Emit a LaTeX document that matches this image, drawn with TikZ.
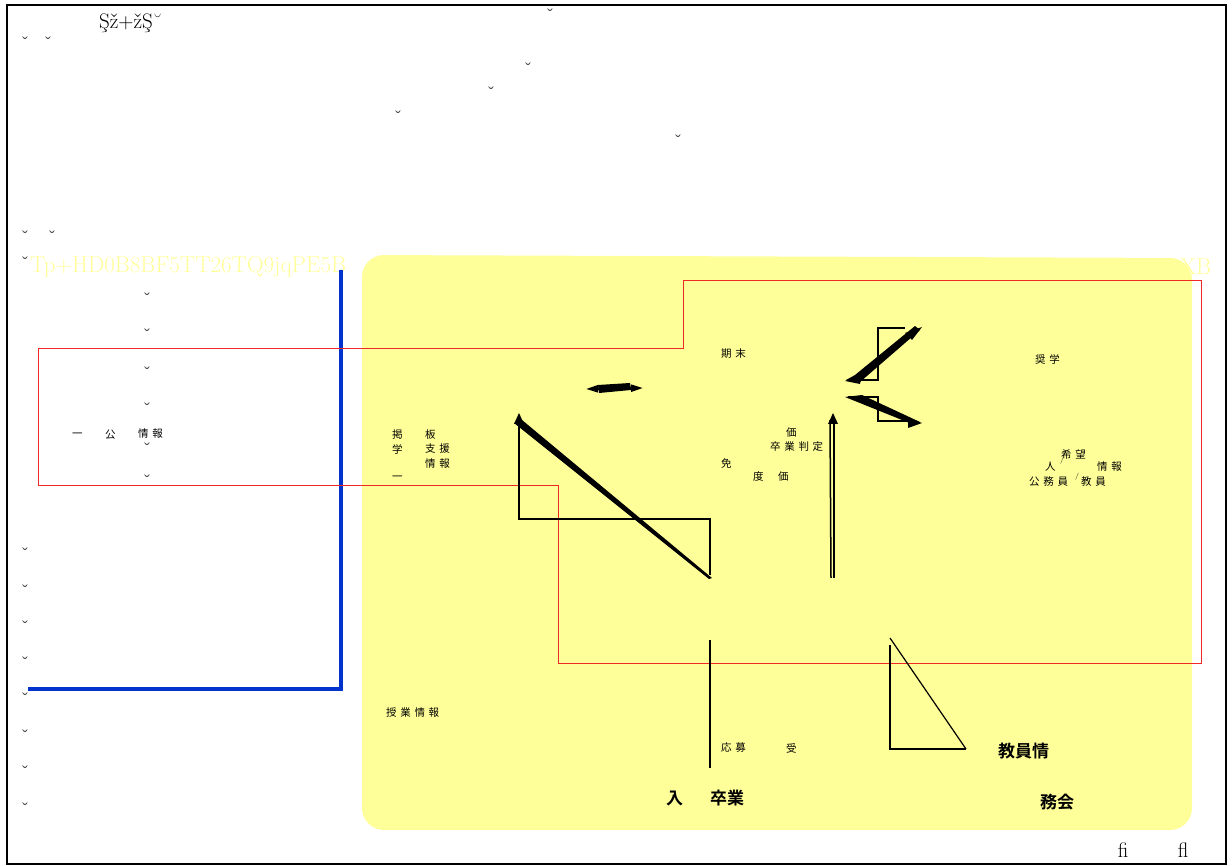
\documentclass[tikz,border=0pt]{standalone}
\usepackage{fontspec}
\newfontfamily\jp[LetterSpace=35]{Noto Sans CJK JP}
\newfontfamily\jpb[LetterSpace=0]{Noto Sans CJK JP Bold}
\usetikzlibrary{arrows.meta}
\definecolor{pale}{RGB}{255,255,153}
\definecolor{blueline}{RGB}{0,51,204}
\definecolor{redline}{RGB}{240,40,40}
\tikzset{
  jt/.style={font=\jp\fontsize{10.5}{12}\selectfont, inner sep=0pt, anchor=west},
  jbt/.style={font=\jpb\fontsize{17}{18}\selectfont, inner sep=0pt, anchor=west},
  br/.style={font=\bfseries\fontsize{14}{14}\selectfont, inner sep=0pt},
  gar/.style={font=\fontsize{23}{23}\selectfont, text=pale, inner sep=0pt, anchor=west},
  blk/.style={line width=2.2pt, black},
  thinblk/.style={line width=1.2pt, black}
}
\begin{document}
\begin{tikzpicture}[x=1pt,y=-1pt]
\useasboundingbox (0,0) rectangle (1232,866);
% outer frame
\draw[line width=2pt] (7,5) rectangle (1226,864);
% yellow region
\fill[pale, rounded corners=22pt] (362,255) -- (1192,258) -- (1192,830) -- (362,830) -- cycle;
% garbled yellow text
\node[gar] (g1) at (30,267) {Tp+HD0B8BF5TT26TQ9jqPE5B};
\node[gar] (g4) at (1180,267) {XB};
% blue line
\draw[blueline, line width=4pt] (341,270) -- (341,689) -- (28,689);
% red outline
\draw[redline, line width=0.8pt] (38,348) -- (683,348) -- (683,280) -- (1201,280) -- (1201,663) -- (558,663) -- (558,485) -- (38,485) -- cycle;
% top serif text
\node[font=\fontsize{21}{21}\selectfont, inner sep=0pt, anchor=west] (t1) at (99,23) {Şž+žŞ˘};
\node[font=\fontsize{21}{21}\selectfont, inner sep=0pt] (f1) at (1123,850) {ﬁ};
\node[font=\fontsize{21}{21}\selectfont, inner sep=0pt] (f2) at (1183,850) {ﬂ};
% breves
\foreach \x/\y [count=\i] in {550/14,25/42,48/42,528/68,491/92,398/116,678/140,25/236,52/236,25/262,147/298,147/334,147/372,147/408,147/448,147/480,25/553,25/590,25/626,25/662,25/698,25/735,25/771,25/808}
  \node[br] (b\i) at (\x,\y) {˘};
% Japanese labels
\node[jt] (k1) at (721,354) {期末};
\node[jt] (k2) at (1035,359) {奨学};
\node[jt] (k3) at (72,435) {一};
\node[jt] (k4) at (105,435) {公};
\node[jt] (k5) at (138,434) {情報};
\node[jt] (k6) at (392,435) {掲};
\node[jt] (k7) at (425,435) {板};
\node[jt] (k8) at (392,449) {学};
\node[jt] (k9) at (425,449) {支援};
\node[jt] (k10) at (425,464) {情報};
\node[jt] (k11) at (392,478) {一};
\node[jt] (k12) at (786,433) {価};
\node[jt] (k13) at (770,447) {卒業判定};
\node[jt] (k14) at (721,463) {免};
\node[jt] (k15) at (753,477) {度};
\node[jt] (k16) at (778,477) {価};
\node[jt] (k17) at (1061,454) {希望};
\node[jt] (k18) at (1045,467) {人};
\node[jt] (k19) at (1097,467) {情報};
\node[jt] (k20) at (1029,482) {公務員};
\node[jt] (k21) at (1081,482) {教員};
\node[font=\fontsize{7}{7}\selectfont, inner sep=0pt] (s1) at (1062,461) {/};
\node[font=\fontsize{7}{7}\selectfont, inner sep=0pt] (s2) at (1077,477) {/};
\node[jt] (k22) at (386,713) {授業情報};
\node[jt] (k23) at (721,748) {応募};
\node[jt] (k24) at (786,748) {受};
\node[jbt] (k25) at (666,798) {入};
\node[jbt] (k26) at (710,798) {卒業};
\node[jbt] (k27) at (998,751) {教員情};
\node[jbt] (k28) at (1040,802) {務会};
% black shapes
\coordinate (a1) at (586,389); \coordinate (a2) at (643,388);
\draw[blk, {Triangle[length=12pt,width=7pt]}-{Triangle[length=12pt,width=7pt]}] (a1) -- (a2);
\fill (598,385) -- (630,383) -- (631,390) -- (599,393) -- cycle;
% big left shape
\coordinate (p1) at (519,416); \coordinate (p2) at (519,519); \coordinate (p3) at (710,519); \coordinate (p4) at (710,575);
\draw[blk] (p1) -- (p2) -- (p3) -- (p4);
\fill (514,423) -- (522,420) -- (712,578) -- (709,579) -- cycle;
\fill (519,413) -- (514,424) -- (524,424) -- cycle;
% upper right Z shape
\coordinate (q1) at (878,328); \coordinate (q2) at (878,380);
\draw[blk] (905,328) -- (q1) -- (q2) -- (848,380);
\fill (846,380) -- (855,375) -- (915,326) -- (920,330) -- (860,382) -- cycle;
\fill (922,327) -- (905,333) -- (912,340) -- cycle;
\fill (845,381) -- (862,373) -- (860,384) -- cycle;
% second Z shape
\coordinate (r1) at (878,397); \coordinate (r2) at (878,421);
\draw[blk] (848,397) -- (r1) -- (r2) -- (910,421);
\fill (845,397) -- (862,395) -- (920,422) -- (912,424) -- cycle;
\fill (922,423) -- (908,418) -- (908,428) -- cycle;
% vertical double line
\draw[line width=1.5pt] (830,420) -- (831,578);
\draw[line width=1.5pt] (834,420) -- (834,578);
\fill (833,413) -- (828,424) -- (838,424) -- cycle;
% vertical line bottom
\draw[blk] (710,640) -- (710,768);
% triangle
\draw[blk] (890,645) -- (890,749) -- (966,749);
\draw[thinblk] (890,638) -- (966,749);
\end{tikzpicture}
\end{document}
